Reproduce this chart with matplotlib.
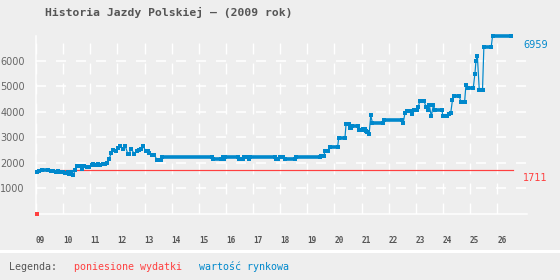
import matplotlib
matplotlib.use("Agg")
import matplotlib.pyplot as plt
from matplotlib.patches import Rectangle

# wartosc rynkowa - odcinki stalej wartosci (poczatek, koniec, wartosc)
blue_start = [2009.03, 2009.11, 2009.21, 2009.54, 2009.73, 2009.80, 2009.88, 2010.07,
              2010.17, 2010.22, 2010.28, 2010.37, 2010.44, 2010.50, 2010.71, 2010.78,
              2010.87, 2011.05, 2011.11, 2011.20, 2011.27, 2011.37, 2011.46, 2011.63,
              2011.70, 2011.78, 2011.85, 2011.96, 2012.03, 2012.11, 2012.20, 2012.29,
              2012.38, 2012.50, 2012.62, 2012.71, 2012.80, 2012.88, 2012.95, 2013.04,
              2013.18, 2013.26, 2013.45, 2013.66, 2015.52, 2015.88, 2015.93, 2015.97,
              2016.49, 2016.68, 2016.85, 2016.89, 2017.85, 2017.99, 2018.18, 2018.59,
              2019.52, 2019.65, 2019.83, 2020.16, 2020.43, 2020.57, 2020.64, 2020.92,
              2021.07, 2021.16, 2021.22, 2021.28, 2021.34, 2021.40, 2021.82, 2022.54,
              2022.60, 2022.66, 2022.87, 2022.93, 2023.09, 2023.15, 2023.38, 2023.44,
              2023.50, 2023.57, 2023.65, 2023.71, 2024.01, 2024.22, 2024.29, 2024.35,
              2024.40, 2024.66, 2024.85, 2024.92, 2025.18, 2025.22, 2025.27, 2025.34,
              2025.51, 2025.83]
blue_end = [2009.03, 2009.11, 2009.45, 2009.64, 2009.73, 2009.80, 2009.98, 2010.07,
            2010.17, 2010.22, 2010.28, 2010.37, 2010.44, 2010.62, 2010.71, 2010.78,
            2010.96, 2011.05, 2011.11, 2011.20, 2011.27, 2011.37, 2011.54, 2011.63,
            2011.70, 2011.78, 2011.85, 2011.96, 2012.03, 2012.11, 2012.20, 2012.29,
            2012.44, 2012.50, 2012.62, 2012.71, 2012.80, 2012.88, 2012.95, 2013.12,
            2013.18, 2013.36, 2013.62, 2015.48, 2015.81, 2015.88, 2015.93, 2016.46,
            2016.64, 2016.80, 2016.85, 2017.81, 2017.91, 2018.11, 2018.55, 2019.47,
            2019.62, 2019.78, 2020.12, 2020.39, 2020.52, 2020.60, 2020.88, 2021.03,
            2021.12, 2021.16, 2021.22, 2021.28, 2021.34, 2021.78, 2022.48, 2022.54,
            2022.60, 2022.79, 2022.87, 2023.03, 2023.09, 2023.30, 2023.38, 2023.44,
            2023.50, 2023.57, 2023.65, 2023.96, 2024.14, 2024.22, 2024.29, 2024.35,
            2024.60, 2024.80, 2024.85, 2025.12, 2025.18, 2025.22, 2025.27, 2025.46,
            2025.78, 2026.50]
blue_value = [1636, 1675, 1714, 1675, 1636, 1675, 1636, 1610,
              1636, 1571, 1636, 1506, 1714, 1870, 1766, 1870,
              1818, 1909, 1948, 1922, 1948, 1909, 1948, 2013,
              2169, 2403, 2520, 2481, 2598, 2649, 2559, 2661,
              2364, 2559, 2364, 2454, 2520, 2559, 2649, 2481,
              2390, 2325, 2130, 2234, 2169, 2234, 2169, 2234,
              2169, 2234, 2169, 2234, 2169, 2234, 2169, 2234,
              2286, 2481, 2637, 2988, 3518, 3378, 3428, 3300,
              3339, 3247, 3196, 3117, 3857, 3572, 3689, 3572,
              3947, 4024, 3922, 4078, 4180, 4430, 4180, 4078,
              4259, 3818, 4259, 4051, 3818, 3896, 3961, 4441,
              4623, 4390, 5053, 4936, 5480, 5999, 6183, 4858,
              6533, 6959]

# poniesione wydatki
red_x = [2009.03, 2026.58]
red_value = 1711
red_first = 0

year_ticks = list(range(2009, 2027))
year_labels = ["%02d" % (y % 100) for y in year_ticks]
value_ticks = [1000, 2000, 3000, 4000, 5000, 6000]

BLUE = "#0088cc"
RED = "#ff4040"
BG = "#eeeeee"
PX = 0.72  # points per pixel at dpi 100

plt.rcParams["lines.scale_dashes"] = False

fig = plt.figure(figsize=(5.6, 2.8), dpi=100, facecolor=BG)
ax = fig.add_axes([36 / 560, 66 / 280, 491 / 560, 178 / 280], facecolor=BG)
ax.set_xlim(2009, 2027.1)
ax.set_ylim(0, 6959)

# siatka
ax.set_xticks(year_ticks)
ax.set_xticklabels(year_labels, ha="left", family="DejaVu Sans Mono",
                   fontweight="bold", fontsize=5.6, color="#555555")
ax.set_yticks(value_ticks)
ax.set_yticklabels([str(v) for v in value_ticks], fontsize=7, color="#666666")
ax.tick_params(axis="x", length=0, pad=16)
ax.tick_params(axis="y", length=0, pad=8)
ax.xaxis.grid(True, color="white", lw=1.4 * PX, linestyle=(0, (11 * PX, 9 * PX)))
ax.yaxis.grid(True, color="white", lw=1.6 * PX, linestyle=(0, (10 * PX, 10 * PX)))
ax.set_axisbelow(True)
for s in ["top", "right"]:
    ax.spines[s].set_visible(False)
for s in ["left", "bottom"]:
    ax.spines[s].set_color("white")
    ax.spines[s].set_linewidth(1.5 * PX)

# poniesione wydatki (pod linia niebieska)
ax.plot(red_x, [red_value, red_value], color=RED, lw=1.2 * PX, zorder=2.7)
ax.plot([red_x[0]], [red_first], color=RED, marker="s", markersize=3.8 * PX,
        markeredgewidth=0, clip_on=False, zorder=5)

# wartosc rynkowa
xs, ys = [], []
for a, b, v in zip(blue_start, blue_end, blue_value):
    xs += [a, b]
    ys += [v, v]
ax.plot(xs, ys, color=BLUE, lw=1.2 * PX, marker="s", markersize=3.6 * PX,
        markeredgewidth=0, clip_on=False, zorder=3)
ax.hlines(blue_value, blue_start, blue_end, color=BLUE, lw=3.6 * PX,
          clip_on=False, zorder=3)

ax.annotate(str(blue_value[-1]), (2026.95, blue_value[-1]), xytext=(0, -3),
            textcoords="offset points", va="top", ha="left", fontsize=7,
            color=BLUE, annotation_clip=False)
ax.annotate(str(red_value), (2026.95, red_value), xytext=(0, -2),
            textcoords="offset points", va="top", ha="left", fontsize=7,
            color=RED, annotation_clip=False)

fig.text(45 / 560, 1 - 12.5 / 280, "Historia Jazdy Polskiej \u2013 (2009 rok)",
         family="DejaVu Sans Mono", fontweight="bold", fontsize=8.2,
         color="#555555", va="center", ha="left")

fig.add_artist(Rectangle((0, 1 - 253 / 280), 1, 3 / 280, transform=fig.transFigure,
                         facecolor="white", edgecolor="none"))

ly = 1 - 267 / 280
fig.text(9 / 560, ly, "Legenda:", family="DejaVu Sans Mono", fontsize=7.2,
         color="#555555", va="center")
fig.text(74 / 560, ly, "poniesione wydatki", family="DejaVu Sans Mono", fontsize=7.2,
         color=RED, va="center")
fig.text(199 / 560, ly, "warto\u015b\u0107 rynkowa", family="DejaVu Sans Mono",
         fontsize=7.2, color=BLUE, va="center")

fig.savefig("out.png", dpi=100, facecolor=BG)
